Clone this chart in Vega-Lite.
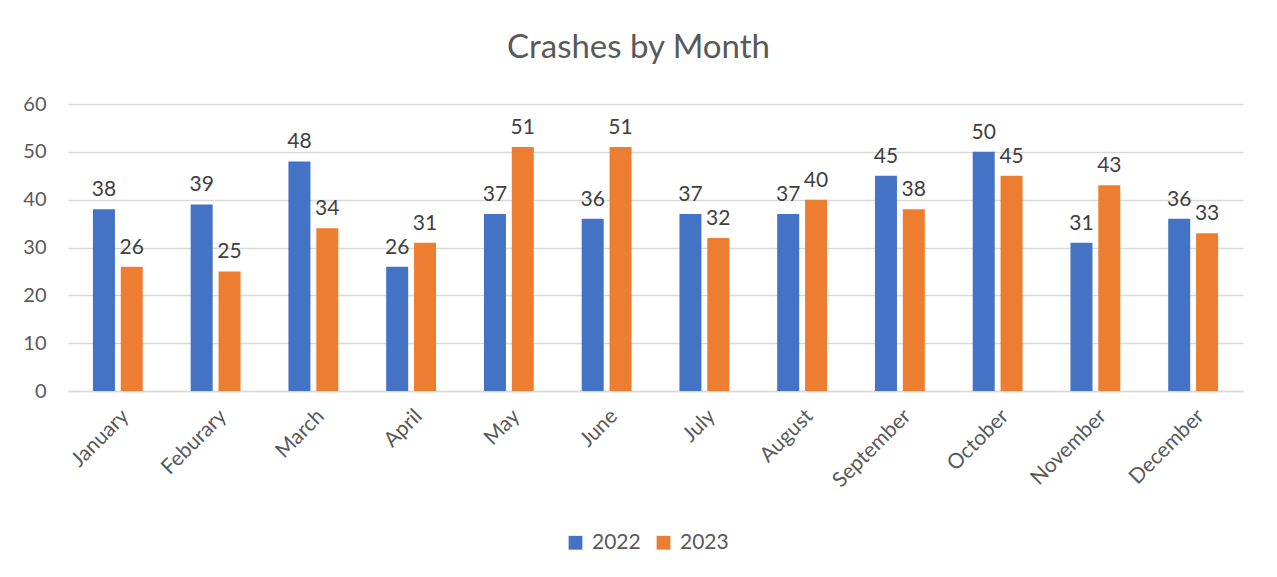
{
  "$schema": "https://vega.github.io/schema/vega-lite/v6.json",
  "autosize": {"type": "none"},
  "width": 1175,
  "height": 287,
  "padding": {"left": 68, "top": 104, "right": 34, "bottom": 186},
  "background": "white",
  "title": {
    "text": "Crashes by Month",
    "font": "Lato",
    "fontSize": 33,
    "fontWeight": "normal",
    "color": "#595959",
    "anchor": "middle",
    "offset": 29,
    "dx": -17
  },
  "data": {
    "values": [
      {"month": "January", "year": "2022", "crashes": 38},
      {"month": "January", "year": "2023", "crashes": 26},
      {"month": "Feburary", "year": "2022", "crashes": 39},
      {"month": "Feburary", "year": "2023", "crashes": 25},
      {"month": "March", "year": "2022", "crashes": 48},
      {"month": "March", "year": "2023", "crashes": 34},
      {"month": "April", "year": "2022", "crashes": 26},
      {"month": "April", "year": "2023", "crashes": 31},
      {"month": "May", "year": "2022", "crashes": 37},
      {"month": "May", "year": "2023", "crashes": 51},
      {"month": "June", "year": "2022", "crashes": 36},
      {"month": "June", "year": "2023", "crashes": 51},
      {"month": "July", "year": "2022", "crashes": 37},
      {"month": "July", "year": "2023", "crashes": 32},
      {"month": "August", "year": "2022", "crashes": 37},
      {"month": "August", "year": "2023", "crashes": 40},
      {"month": "September", "year": "2022", "crashes": 45},
      {"month": "September", "year": "2023", "crashes": 38},
      {"month": "October", "year": "2022", "crashes": 50},
      {"month": "October", "year": "2023", "crashes": 45},
      {"month": "November", "year": "2022", "crashes": 31},
      {"month": "November", "year": "2023", "crashes": 43},
      {"month": "December", "year": "2022", "crashes": 36},
      {"month": "December", "year": "2023", "crashes": 33}
    ]
  },
  "encoding": {
    "x": {
      "field": "month",
      "type": "nominal",
      "sort": null,
      "scale": {"paddingInner": 0.49, "paddingOuter": 0.255},
      "axis": {
        "title": null,
        "labelAngle": -45,
        "labelAlign": "right",
        "labelBaseline": "top",
        "labelFont": "Lato",
        "labelFontSize": 21,
        "labelColor": "#595959",
        "labelPadding": 14,
        "labelOverlap": false,
        "ticks": false,
        "domain": true,
        "domainColor": "#d9d9d9",
        "domainWidth": 1.5,
        "grid": false
      }
    },
    "xOffset": {"field": "year", "type": "nominal", "scale": {"paddingInner": 0.21}},
    "y": {
      "field": "crashes",
      "type": "quantitative",
      "scale": {"domain": [0, 60], "nice": false},
      "axis": {
        "title": null,
        "values": [0, 10, 20, 30, 40, 50, 60],
        "labelFont": "Lato",
        "labelFontSize": 20,
        "labelColor": "#595959",
        "labelPadding": 22,
        "ticks": false,
        "domain": false,
        "grid": true,
        "gridColor": "#d9d9d9",
        "gridWidth": 1.5
      }
    }
  },
  "layer": [
    {
      "mark": {"type": "bar"},
      "encoding": {
        "color": {
          "field": "year",
          "type": "nominal",
          "scale": {"domain": ["2022", "2023"], "range": ["#4472C4", "#ED7D31"]},
          "legend": {
            "title": null,
            "orient": "none",
            "legendX": 497,
            "legendY": 428,
            "direction": "horizontal",
            "symbolType": "square",
            "symbolSize": 190,
            "symbolStrokeWidth": 0,
            "labelFont": "Lato",
            "labelFontSize": 21,
            "labelColor": "#595959",
            "labelOffset": 6,
            "columnPadding": 12
          }
        }
      }
    },
    {
      "mark": {
        "type": "text",
        "baseline": "bottom",
        "dy": -9,
        "font": "Lato",
        "fontSize": 21,
        "color": "#404040"
      },
      "encoding": {
        "text": {"field": "crashes", "type": "quantitative"}
      }
    }
  ],
  "config": {"view": {"stroke": null}}
}
